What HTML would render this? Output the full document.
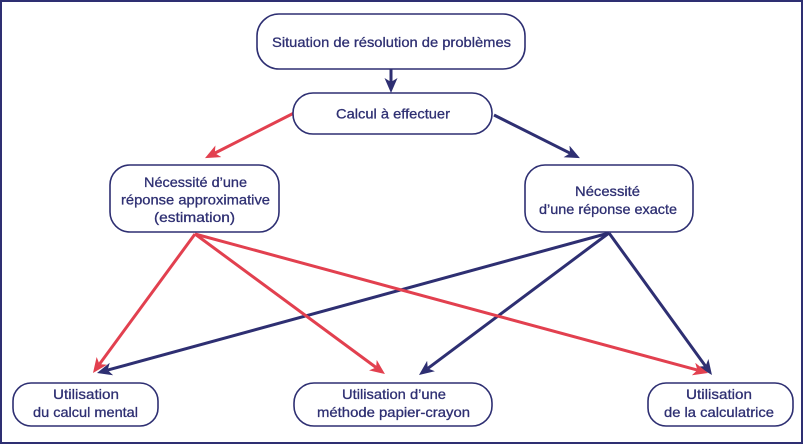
<!DOCTYPE html>
<html><head><meta charset="utf-8"><style>
html,body{margin:0;padding:0;background:#fff;}
svg{display:block;}
text{font-family:"Liberation Sans",sans-serif;font-size:14px;fill:#2e2f72;text-anchor:middle;stroke:#2e2f72;stroke-width:0.3;}
</style></head><body>
<svg width="804" height="446" viewBox="0 0 804 446" xmlns="http://www.w3.org/2000/svg">
<defs>
<marker id="an" markerUnits="userSpaceOnUse" markerWidth="15" markerHeight="13" refX="4" refY="6.5" orient="auto" viewBox="0 0 15 13">
<path d="M0,0 L15,6.5 L0,13 L4,6.5 Z" fill="#2e2f72"/></marker>
<marker id="ar" markerUnits="userSpaceOnUse" markerWidth="15" markerHeight="13" refX="4" refY="6.5" orient="auto" viewBox="0 0 15 13">
<path d="M0,0 L15,6.5 L0,13 L4,6.5 Z" fill="#e2404f"/></marker>
</defs>
<rect x="1" y="1" width="801" height="442" fill="none" stroke="#2e2f72" stroke-width="2"/>

<g stroke-width="3" fill="none">
<line x1="391" y1="69" x2="391" y2="82" stroke="#2e2f72" marker-end="url(#an)"/>
<line x1="494" y1="115" x2="570.1" y2="153.2" stroke="#2e2f72" marker-end="url(#an)"/>
<line x1="609" y1="233" x2="107.6" y2="370.1" stroke="#2e2f72" marker-end="url(#an)"/>
<line x1="609" y1="233" x2="427.8" y2="368.4" stroke="#2e2f72" marker-end="url(#an)"/>
<line x1="609" y1="233" x2="705.5" y2="366.1" stroke="#2e2f72" marker-end="url(#an)"/>
<line x1="294" y1="113" x2="214.8" y2="153.1" stroke="#e2404f" marker-end="url(#ar)"/>
<line x1="195" y1="234" x2="99.5" y2="364.1" stroke="#e2404f" marker-end="url(#ar)"/>
<line x1="195" y1="234" x2="376.1" y2="367.5" stroke="#e2404f" marker-end="url(#ar)"/>
<line x1="195" y1="234" x2="697.4" y2="370.1" stroke="#e2404f" marker-end="url(#ar)"/>
</g>

<g fill="#fff" stroke="#2e2f72" stroke-width="1.6">
<rect x="257" y="14" width="268" height="55" rx="22"/>
<rect x="293" y="93" width="199" height="41" rx="20"/>
<rect x="110" y="165" width="169" height="67" rx="20"/>
<rect x="525" y="165" width="168" height="67" rx="20"/>
<rect x="13" y="383" width="145" height="43" rx="18"/>
<rect x="294" y="383" width="198" height="43" rx="20"/>
<rect x="648" y="383" width="145" height="43" rx="18"/>
</g>

<text x="391.5" y="47" textLength="239" lengthAdjust="spacingAndGlyphs">Situation de résolution de problèmes</text>
<text x="393" y="118.5" textLength="114" lengthAdjust="spacingAndGlyphs">Calcul à effectuer</text>

<text x="195.5" y="187" textLength="103" lengthAdjust="spacingAndGlyphs">Nécessité d’une</text>
<text x="195.5" y="204.5" textLength="149" lengthAdjust="spacingAndGlyphs">réponse approximative</text>
<text x="194.5" y="222" textLength="81" lengthAdjust="spacingAndGlyphs">(estimation)</text>

<text x="607.5" y="196" textLength="65" lengthAdjust="spacingAndGlyphs">Nécessité</text>
<text x="608" y="214" textLength="138" lengthAdjust="spacingAndGlyphs">d’une réponse exacte</text>

<text x="86" y="399" textLength="66" lengthAdjust="spacingAndGlyphs">Utilisation</text>
<text x="85.5" y="417" textLength="105" lengthAdjust="spacingAndGlyphs">du calcul mental</text>

<text x="394" y="399" textLength="104" lengthAdjust="spacingAndGlyphs">Utilisation d’une</text>
<text x="393.5" y="417" textLength="153" lengthAdjust="spacingAndGlyphs">méthode papier-crayon</text>

<text x="719" y="399" textLength="66" lengthAdjust="spacingAndGlyphs">Utilisation</text>
<text x="719" y="417" textLength="110" lengthAdjust="spacingAndGlyphs">de la calculatrice</text>
</svg>
</body></html>
